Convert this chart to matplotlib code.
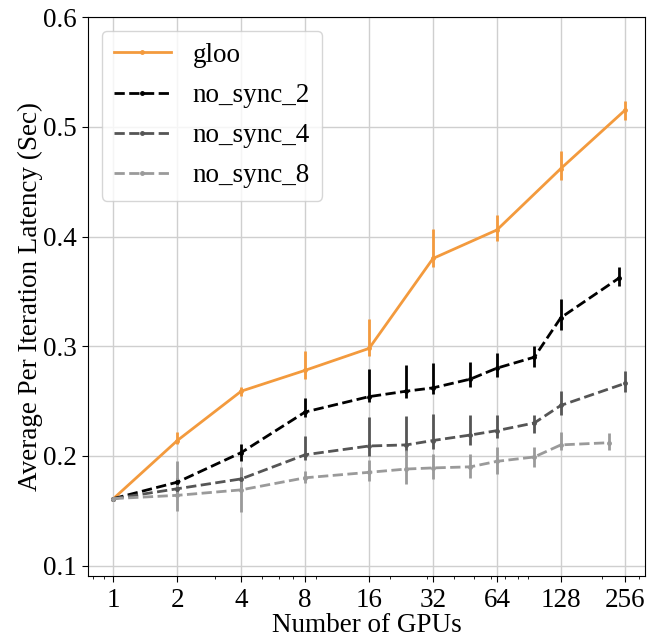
import matplotlib
matplotlib.use("Agg")
import matplotlib.pyplot as plt
from matplotlib.ticker import NullFormatter, FixedLocator

plt.rcParams['font.family'] = ['Liberation Serif', 'DejaVu Serif']

# Data
gloo_x = [1, 2, 4, 8, 16, 32, 64, 128, 256]
gloo_y = [0.161, 0.214, 0.259, 0.278, 0.298, 0.380, 0.406, 0.462, 0.515]
gloo_lo = [0, 0.003, 0.004, 0.008, 0.007, 0.008, 0.010, 0.010, 0.009]
gloo_hi = [0, 0.008, 0.004, 0.018, 0.027, 0.027, 0.014, 0.016, 0.009]

ns2_x = [1, 2, 4, 8, 16, 24, 32, 48, 64, 96, 128, 240]
ns2_y = [0.161, 0.176, 0.203, 0.240, 0.254, 0.259, 0.262, 0.270, 0.280, 0.290, 0.326, 0.362]
ns2_lo = [0, 0.004, 0.008, 0.005, 0.005, 0.006, 0.006, 0.007, 0.008, 0.009, 0.011, 0.007]
ns2_hi = [0, 0.004, 0.008, 0.013, 0.025, 0.024, 0.023, 0.016, 0.014, 0.010, 0.017, 0.010]

ns4_x = [1, 2, 4, 8, 16, 24, 32, 48, 64, 96, 128, 256]
ns4_y = [0.161, 0.170, 0.179, 0.201, 0.209, 0.210, 0.214, 0.219, 0.223, 0.230, 0.246, 0.266]
ns4_lo = [0, 0.004, 0.008, 0.005, 0.009, 0.006, 0.008, 0.009, 0.007, 0.009, 0.009, 0.008]
ns4_hi = [0, 0.004, 0.010, 0.017, 0.026, 0.026, 0.024, 0.018, 0.014, 0.007, 0.013, 0.011]

ns8_x = [1, 2, 4, 8, 16, 24, 32, 48, 64, 96, 128, 216]
ns8_y = [0.161, 0.164, 0.169, 0.180, 0.185, 0.188, 0.189, 0.190, 0.195, 0.199, 0.210, 0.212]
ns8_lo = [0, 0.014, 0.020, 0.005, 0.008, 0.014, 0.010, 0.010, 0.012, 0.009, 0.005, 0.007]
ns8_hi = [0, 0.031, 0.021, 0.006, 0.011, 0.017, 0.013, 0.012, 0.013, 0.009, 0.012, 0.009]

tick_vals = [1, 2, 4, 8, 16, 32, 64, 128, 256]
tick_labels = ['1', '2', '4', '8', '16', '32', '64', '128', '256']

fig = plt.figure(figsize=(6.48, 6.37), dpi=100)
ax = fig.add_axes([0.136, 0.095, 0.859, 0.878])

series = [
    ('gloo', gloo_x, gloo_y, gloo_lo, gloo_hi, '#f39a3d', '-'),
    ('no_sync_2', ns2_x, ns2_y, ns2_lo, ns2_hi, '#000000', '--'),
    ('no_sync_4', ns4_x, ns4_y, ns4_lo, ns4_hi, '#555555', '--'),
    ('no_sync_8', ns8_x, ns8_y, ns8_lo, ns8_hi, '#9a9a9a', '--'),
]
handles = []
for name, x, y, lo, hi, c, ls in series:
    eb = ax.errorbar(x, y, yerr=[lo, hi], color=c, ls=ls, lw=2, marker='.',
                     markersize=5, elinewidth=2, capsize=0, label=name)
    handles.append(eb.lines[0])

ax.set_xscale('log')
ax.set_xlim(0.76, 318)
ax.set_ylim(0.09, 0.6)
ax.xaxis.set_major_locator(FixedLocator(tick_vals))
ax.set_xticklabels(tick_labels)
ax.xaxis.set_minor_formatter(NullFormatter())
ax.set_yticks([0.1, 0.2, 0.3, 0.4, 0.5, 0.6])
ax.set_yticklabels(['0.1', '0.2', '0.3', '0.4', '0.5', '0.6'])
ax.tick_params(axis='both', which='major', labelsize=19.5, length=4, pad=4)
ax.tick_params(axis='x', which='minor', length=2.5)
ax.grid(True, which='major', color='#cfcfcf', lw=1)
ax.set_axisbelow(True)
ax.set_xlabel('Number of GPUs', fontsize=19.5, labelpad=0)
ax.set_ylabel('Average Per Iteration Latency (Sec)', fontsize=19.5, labelpad=0)
leg = ax.legend(handles, [s[0] for s in series], loc='upper left', fontsize=19.5,
                handlelength=2.1, borderpad=0.45, labelspacing=0.56,
                handletextpad=0.8, borderaxespad=0.5, fancybox=True)
fig.savefig('out.png', dpi=100)
